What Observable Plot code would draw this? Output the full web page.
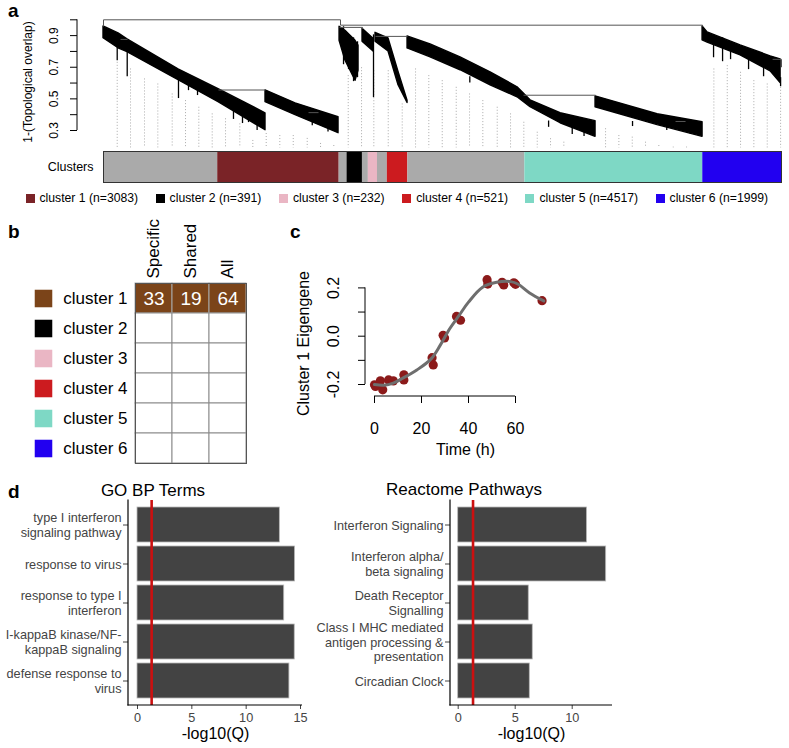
<!DOCTYPE html>
<html><head><meta charset="utf-8">
<script src="https://cdn.jsdelivr.net/npm/d3@7"></script>
<script src="https://cdn.jsdelivr.net/npm/@observablehq/plot@0.6"></script>
<style>
body{margin:0;background:#fff}
#page{position:relative;width:789px;height:748px;overflow:hidden;background:#fff;font-family:"Liberation Sans",Arial,sans-serif;color:#000}
.box{position:absolute}
.lbl{position:absolute;font-weight:bold;font-size:19px;line-height:21px}
.ttl{position:absolute;font-size:17px;line-height:17px;text-align:center;width:240px;white-space:nowrap}
#legend{position:absolute;left:25.5px;top:191px;height:14px;display:flex;align-items:center;font-size:12.2px;line-height:14px;white-space:nowrap}
.item{display:flex;align-items:center;margin-right:17.5px}
.sw{width:9px;height:9px;margin-right:5px}
</style></head><body><div id="page"></div>
<script>
// ---------- DATA ----------
// panel a: cluster colour bar (leaf counts in dendrogram order)
const barNames  = ["grey","cluster 1","grey","cluster 2","grey","cluster 3","grey","cluster 4","grey","cluster 5","cluster 6"];
const barCounts = [2900, 3083, 200, 391, 150, 232, 250, 521, 2970, 4517, 1999];
const clusterNames  = ["cluster 1","cluster 2","cluster 3","cluster 4","cluster 5","cluster 6"];
const clusterCounts = [3083, 391, 232, 521, 4517, 1999];
const clusterColors = ["#7a2327","#000000","#eab6c4","#cc1b1f","#7ed8c5","#2200f0"];
const greyColor = "#aaaaaa";
// panel a: dendrogram branch masses [block, leaf position, top height, bottom height]
const dendroBlocks = [
  ["A",0,0.958,0.884],["A",381,0.914,0.820],["A",609,0.876,0.795],["A",1904,0.687,0.618],["A",2920,0.561,0.479],["A",4113,0.409,0.302],
  ["B",4113,0.554,0.480],["B",4875,0.472,0.397],["B",5967,0.384,0.283],
  ["M1",5993,0.956,0.867],["M1",6144,0.931,0.741],["M1",6271,0.899,0.678],["M1",6398,0.867,0.615],["M1",6474,0.836,0.678],
  ["M2",6576,0.943,0.862],["M2",6855,0.880,0.800],
  ["M3",6906,0.918,0.862],["M3",7236,0.882,0.800],["M3",7490,0.671,0.586],["M3",7719,0.489,0.474],
  ["G",7719,0.895,0.819],["G",8303,0.844,0.763],["G",9064,0.762,0.681],["G",9826,0.668,0.586],["G",10511,0.573,0.510],["G",10841,0.491,0.447],["G",11603,0.409,0.346],["G",12492,0.359,0.260],
  ["C5",12492,0.516,0.447],["C5",14066,0.403,0.334],["C5",15209,0.352,0.260],
  ["C6",15209,0.958,0.870],["C6",15336,0.920,0.856],["C6",16174,0.838,0.775],["C6",16936,0.769,0.674],["C6",17190,0.750,0.600]
];
// dendrogram merge segments [x1, h1, x2, h2]
const dendroLinks = [
  [0,1.0,6017,1.0],[0,1.0,0,0.958],[6017,1.0,6017,0.966],
  [6017,0.966,15209,0.966],[15209,0.966,15209,0.958],
  [5993,0.952,6576,0.952],[6576,0.952,6576,0.943],
  [6906,0.895,7719,0.895],
  [432,0.876,609,0.876],
  [2920,0.556,4113,0.556],
  [10663,0.523,12492,0.523],
  [5205,0.413,5459,0.413],
  [14523,0.357,14777,0.357],
  [16987,0.750,17213,0.750],[17213,0.750,17213,0.700]
];
// dendrogram leaf spikes [x, top, bottom]
const dendroSpikes = [
  [348,0.912,0.741],[602,0.874,0.640],[1904,0.678,0.502],[2158,0.596,0.552],[2387,0.571,0.521],[3529,0.407,0.344],[3682,0.395,0.350],
  [3300,0.420,0.370],[3900,0.370,0.300],[5300,0.380,0.330],[5700,0.350,0.290],
  [6094,0.956,0.716],[6221,0.905,0.685],[6348,0.886,0.609],[6449,0.861,0.634],[6855,0.905,0.508],
  [15488,0.905,0.760],[15717,0.886,0.735],[15920,0.823,0.748],[16377,0.760,0.685],[16758,0.716,0.640],[17190,0.634,0.577],
  [13431,0.357,0.325],[9300,0.640,0.600],[11300,0.360,0.320],[11900,0.330,0.275],[12200,0.320,0.262],[14300,0.340,0.300],[14900,0.320,0.275]
];
// dotted hang lines [x, top]
const dendroHangs = [
  [348,0.731],[686,0.689],[1041,0.626],[1379,0.594],[1744,0.531],[2082,0.489],[2420,0.447],[2760,0.405],[3098,0.374],[3461,0.342],[3791,0.237],[4131,0.281],[4476,0.268],[4817,0.268],[5172,0.250],[5510,0.218],[5847,0.205],
  [6213,0.647],[6551,0.697],[6863,0.678],[7229,0.678],[7584,0.468],[7922,0.689],[8259,0.647],[8600,0.615],[8955,0.573],[9293,0.531],[9630,0.489],[9996,0.447],[10334,0.405],[10671,0.352],[11012,0.289],[11349,0.248],[11687,0.226],
  [12746,0.311],[13084,0.268],[13424,0.258],[13761,0.226],[14099,0.205],[14465,0.195],[14802,0.195],
  [15496,0.689],[15836,0.710],[16173,0.668],[16511,0.615],[16851,0.594],[17190,0.573]
];
const hangFloor = 0.19;
const dendroTicks = [0.3,0.4,0.5,0.6,0.7,0.8,0.9,1.0];
const dendroTickLabels = [0.3,0.5,0.7,0.9];

// panel b
const tableCols = ["Specific","Shared","All"];
const tableCounts = [[33,19,64],[null,null,null],[null,null,null],[null,null,null],[null,null,null],[null,null,null]];
const bSwatchColors = ["#7b4419","#000000","#eab6c4","#cc1b1f","#7ed8c5","#2200f0"];

// panel c
const eigenTime  = [0,0.4,2.5,3.5,6,8,12.5,12.5,24.5,25,29.2,29.8,34.9,36.6,47.9,48.2,54.3,55,59.3,60,71.3];
const eigenValue = [-0.201,-0.208,-0.185,-0.222,-0.181,-0.185,-0.160,-0.181,-0.089,-0.119,0.004,-0.007,0.082,0.066,0.234,0.216,0.223,0.212,0.221,0.215,0.147];
const fitTime  = [0,4,8,12,18,24,28,32,36,40,46,52,58,61,66,72];
const fitValue = [-0.200,-0.203,-0.194,-0.174,-0.140,-0.095,-0.037,0.031,0.086,0.141,0.203,0.223,0.226,0.216,0.179,0.146];
const eigenXTicks = [0,20,40,60];
const eigenYTicks = [-0.2,-0.1,0.0,0.1,0.2];
const eigenYLabels = [-0.2,0.0,0.2];

// panel d
const goTerms = ["type I interferon\nsignaling pathway","response to virus","response to type I\ninterferon","I-kappaB kinase/NF-\nkappaB signaling","defense response to\nvirus"];
const goQ = [13.1,14.5,13.5,14.47,13.98];
const reTerms = ["Interferon Signaling","Interferon alpha/\nbeta signaling","Death Receptor\nSignalling","Class I MHC mediated\nantigen processing &\npresentation","Circadian Clock"];
const reQ = [11.3,12.98,6.19,6.54,6.28];
const goTicks = [0,5,10,15];
const reTicks = [0,5,10];
const qThreshold = -Math.log10(0.05);

// ---------- HELPERS ----------
const FONT = '"Liberation Sans", Arial, sans-serif';
const SVGNS = "http://www.w3.org/2000/svg";
const page = document.getElementById("page");
function place(node, left, top) {
  const d = document.createElement("div");
  d.className = "box"; d.style.left = left + "px"; d.style.top = top + "px";
  d.appendChild(node); page.appendChild(d); return d;
}
function html(cls, text, left, top, extra) {
  const d = document.createElement("div");
  d.className = cls; d.textContent = text;
  d.style.left = left + "px"; d.style.top = top + "px";
  if (extra) Object.assign(d.style, extra);
  page.appendChild(d);
}
function lineEl(x1, y1, x2, y2, stroke, w) {
  const l = document.createElementNS(SVGNS, "line");
  l.setAttribute("x1", x1); l.setAttribute("y1", y1); l.setAttribute("x2", x2); l.setAttribute("y2", y2);
  l.setAttribute("stroke", stroke); l.setAttribute("stroke-width", w);
  return l;
}
// R-style axis line spanning from lo to hi along the frame edge
function axisSpan(dim, lo, hi, w = 1) {
  return (index, scales, values, d) => {
    if (dim === "y") { const x = d.marginLeft; return lineEl(x, scales.y(lo), x, scales.y(hi), "#000", w); }
    const y = d.height - d.marginBottom; return lineEl(scales.x(lo), y, scales.x(hi), y, "#000", w);
  };
}
// ggplot-style panel edge
function frameEdge(side, w = 1.2) {
  return (index, scales, values, d) => {
    const L = d.marginLeft, R = d.width - d.marginRight, T = d.marginTop, B = d.height - d.marginBottom;
    return side === "left" ? lineEl(L, T - 0.6, L, B + 0.6, "#000", w) : lineEl(L - 0.6, B, R, B, "#000", w);
  };
}
const baseStyle = (fs) => ({fontFamily: FONT, fontSize: fs + "px", color: "#000", background: "none", overflow: "visible"});

// ---------- PANEL a: dendrogram ----------
const geneTotal = d3.sum(barCounts);
const dendro = Plot.plot({
  width: 789, height: 150, marginLeft: 77, marginRight: 8, marginTop: 15, marginBottom: 2,
  style: baseStyle(12),
  x: {domain: [0, geneTotal], range: [103, 781], axis: null},
  y: {domain: [0.3, 1.0], range: [130, 19.3]},
  marks: [
    Plot.ruleX(dendroHangs, {x: d => d[0], y1: d => d[1], y2: () => hangFloor, stroke: "#a0a0a0", strokeWidth: 0.9, strokeDasharray: "1,2"}),
    Plot.areaY(dendroBlocks, {x: d => d[1], y1: d => d[3], y2: d => d[2], z: d => d[0], fill: "#000", stroke: "#000", strokeWidth: 1.4}),
    Plot.ruleX(dendroSpikes, {x: d => d[0], y1: d => d[1], y2: d => d[2], stroke: "#000", strokeWidth: 1.3}),
    Plot.link(dendroLinks, {x1: d => d[0], y1: d => d[1], x2: d => d[2], y2: d => d[3], stroke: "#555", strokeWidth: 1}),
    Plot.axisY({ticks: dendroTicks, tickSize: 7, tickFormat: () => "", label: null}),
    axisSpan("y", 0.3, 1.0),
    Plot.text(dendroTickLabels, {y: d => d, text: d => d.toFixed(1), frameAnchor: "left", rotate: -90, textAnchor: "middle", lineAnchor: "bottom", dx: -20, fontSize: 12}),
    Plot.text(["1-(Topological overlap)"], {text: d => d, frameAnchor: "left", rotate: -90, textAnchor: "middle", lineAnchor: "bottom", dx: -46, fontSize: 12})
  ]
});
place(dendro, 0, 0);

// colour bar
const barSegments = barNames.map((name, i) => ({name, n: barCounts[i],
  color: name === "grey" ? greyColor : clusterColors[clusterNames.indexOf(name)]}));
const colorBar = Plot.plot({
  width: 789, height: 40, marginLeft: 103, marginRight: 8, marginTop: 3, marginBottom: 6,
  style: baseStyle(12.5),
  x: {domain: [0, geneTotal], range: [103, 781], axis: null},
  y: {domain: ["Clusters"], padding: 0},
  marks: [
    Plot.barX(barSegments, {x: "n", y: () => "Clusters", fill: "color"}),
    Plot.frame({stroke: "#333", strokeWidth: 1}),
    Plot.axisY({tickSize: 0, tickPadding: 10, fontSize: 12.5, label: null})
  ]
});
place(colorBar, 0, 148);

// legend
const legend = document.createElement("div");
legend.id = "legend";
clusterNames.forEach((name, i) => {
  const it = document.createElement("div"); it.className = "item";
  const sw = document.createElement("div"); sw.className = "sw"; sw.style.background = clusterColors[i];
  const tx = document.createElement("span"); tx.textContent = `${name} (n=${clusterCounts[i]})`;
  it.appendChild(sw); it.appendChild(tx); legend.appendChild(it);
});
page.appendChild(legend);

// ---------- PANEL b: table ----------
const tableCells = [];
clusterNames.forEach((c, i) => tableCols.forEach((col, j) => tableCells.push({cluster: c, col, value: tableCounts[i][j]})));
const table = Plot.plot({
  width: 260, height: 255, marginLeft: 135, marginRight: 14, marginTop: 68, marginBottom: 7,
  style: baseStyle(17),
  x: {domain: tableCols, padding: 0, axis: null},
  y: {domain: clusterNames, padding: 0},
  marks: [
    Plot.cell(tableCells, {x: "col", y: "cluster", fill: d => d.value == null ? "#ffffff" : "#7b4419",
      stroke: d => d.value == null ? "#8c8c8c" : "#a8a8a8", strokeWidth: 1}),
    Plot.frame({stroke: "#555", strokeWidth: 1}),
    Plot.text(tableCells.filter(d => d.value != null), {x: "col", y: "cluster", text: d => String(d.value), fill: "#fff", fontSize: 19}),
    Plot.text(tableCols, {x: d => d, text: d => d, frameAnchor: "top", rotate: -90, textAnchor: "start", lineAnchor: "middle", dy: -5, fontSize: 17}),
    Plot.axisY({tickSize: 0, tickPadding: 8, fontSize: 17, label: null}),
    Plot.dot(clusterNames, {y: d => d, frameAnchor: "left", dx: -92, symbol: "square", r: 9.9, fill: (d, i) => bSwatchColors[i]})
  ]
});
place(table, 0, 215);

// ---------- PANEL c: eigengene ----------
const eigenPts = eigenTime.map((t, i) => ({t, v: eigenValue[i]}));
const eigenFit = fitTime.map((t, i) => ({t, v: fitValue[i]}));
const eigen = Plot.plot({
  width: 300, height: 200, marginLeft: 95, marginRight: 5, marginTop: 30, marginBottom: 64,
  style: baseStyle(16),
  x: {domain: [0, 60], range: [104, 245]},
  y: {domain: [-0.2, 0.2], range: [124, 27.4]},
  marks: [
    Plot.dot(eigenPts, {x: "t", y: "v", r: 4.6, fill: "#8b1a1a"}),
    Plot.line(eigenFit, {x: "t", y: "v", stroke: "#6e6e6e", strokeWidth: 3, curve: "catmull-rom"}),
    Plot.axisX({ticks: eigenXTicks, tickSize: 7, tickPadding: 19, fontSize: 16, label: null}),
    axisSpan("x", 0, 60),
    Plot.axisY({ticks: eigenYTicks, tickSize: 7, tickFormat: () => "", label: null}),
    axisSpan("y", -0.2, 0.2),
    Plot.text(eigenYLabels, {y: d => d, text: d => d.toFixed(1), frameAnchor: "left", rotate: -90, textAnchor: "middle", lineAnchor: "bottom", dx: -26.5, fontSize: 16}),
    Plot.text(["Cluster 1 Eigengene"], {text: d => d, frameAnchor: "left", rotate: -90, textAnchor: "middle", lineAnchor: "bottom", dx: -56.7, fontSize: 16}),
    Plot.text(["Time (h)"], {text: d => d, frameAnchor: "bottom", lineAnchor: "bottom", dy: 58.5, fontSize: 16})
  ]
});
place(eigen, 270, 260);

// ---------- PANEL d: enrichment bars ----------
function barPanel(terms, q, ticks, xDomain, xRange, width, marginLeft, marginRight) {
  const data = terms.map((term, i) => ({term, q: q[i]}));
  return Plot.plot({
    width, height: 268, marginLeft, marginRight, marginTop: 20, marginBottom: 43,
    style: baseStyle(12.7),
    x: {domain: xDomain, range: xRange},
    y: {domain: terms, paddingInner: 0.1, paddingOuter: 0.15},
    marks: [
      Plot.barX(data, {x: "q", y: "term", fill: "#434343", stroke: "#b8b8b8", strokeWidth: 0.8}),
      Plot.ruleX([qThreshold], {stroke: "#cc1010", strokeWidth: 2.6}),
      Plot.axisY({tickSize: 5, tickPadding: 2, fontSize: 12.7, color: "#444", lineHeight: 1.12, label: null}),
      Plot.axisX({ticks, tickSize: 4, tickPadding: 3, fontSize: 12.7, color: "#444", label: null}),
      frameEdge("left"), frameEdge("bottom"),
      Plot.text(["-log10(Q)"], {text: d => d, frameAnchor: "bottom", lineAnchor: "bottom", dy: 33.5, fontSize: 16})
    ]
  });
}
place(barPanel(goTerms, goQ, goTicks, [0, 15], [137, 300], 320, 128, 18), 0, 480);
place(barPanel(reTerms, reQ, reTicks, [0, 10], [137.7, 251.7], 300, 130, 8), 320, 480);

// ---------- labels & titles ----------
html("lbl", "a", 8, 0);
html("lbl", "b", 8, 221);
html("lbl", "c", 290, 221);
html("lbl", "d", 8, 481);
html("ttl", "GO BP Terms", 33, 482.3);
html("ttl", "Reactome Pathways", 344, 481);
</script></body></html>
